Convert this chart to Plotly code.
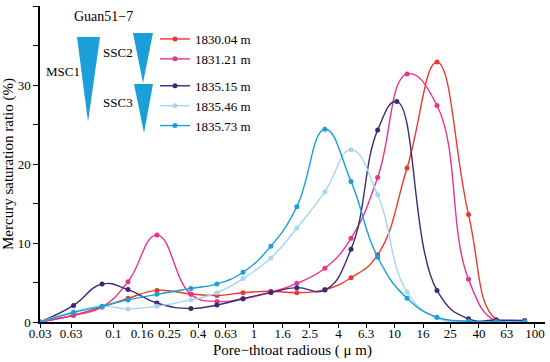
import plotly.graph_objects as go

# Pore-throat radius (µm) of the measurement points
radius = [0.03, 0.052, 0.083, 0.127, 0.204, 0.356, 0.545, 0.836, 1.32,
          2.02, 3.2, 4.91, 7.6, 12.3, 20.1, 33.7, 53, 84.6]
# sample 1835.15 m has its peak point at a different radius
radius_183515 = [0.03, 0.052, 0.083, 0.127, 0.204, 0.356, 0.545, 0.836, 1.32,
                 2.02, 3.2, 4.91, 7.6, 10.4, 20.1, 33.7, 53, 84.6]

s_183004 = [0, 0.85, 1.9, 3.0, 4.0, 3.55, 3.35, 3.7, 3.9,
            3.7, 4.1, 5.6, 8.5, 19.5, 32.9, 13.6, 0.3, 0.05]
s_183121 = [0, 0.85, 1.9, 5.1, 11.0, 3.5, 2.6, 2.95, 3.75,
            4.9, 6.8, 10.6, 18.3, 31.4, 27.4, 5.4, 0.05, 0.05]
s_183515 = [0, 2.1, 4.8, 4.1, 2.4, 1.7, 2.15, 2.95, 3.75,
            4.35, 4.05, 9.2, 24.3, 27.9, 4.0, 0.4, 0.25, 0.2]
s_183546 = [0, 1.3, 2.0, 1.65, 2.0, 2.8, 3.7, 5.5, 8.1,
            11.9, 16.5, 21.8, 16.1, 3.8, 0.5, 0.05, 0, 0]
s_183573 = [0, 1.2, 2.0, 2.8, 3.5, 4.25, 4.8, 6.3, 9.6,
            14.6, 24.4, 17.8, 8.2, 3.0, 0.6, 0.1, 0, 0]

series_names = ["1830.04 m", "1831.21 m", "1835.15 m", "1835.46 m", "1835.73 m"]
series_x = [radius, radius, radius_183515, radius, radius]
series_values = [s_183004, s_183121, s_183515, s_183546, s_183573]
series_colors = ["#e8392c", "#e8348c", "#3b2a78", "#a6d6f0", "#1a9fd8"]
series_groups = ["a", "a", "b", "b", "b"]

x_tickvals = [0.03, 0.05, 0.1, 0.16, 0.25, 0.4, 0.63, 1, 1.6, 2.5, 4, 6.3,
              10, 16, 25, 40, 63, 100]
x_ticktext = ["0.03", "0.63", "0.1", "0.16", "0.25", "0.4", "0.63", "1", "1.6",
              "2.5", "4", "6.3", "10", "16", "25", "40", "63", "100"]
y_tickvals = [0, 5, 10, 15, 20, 25, 30, 35, 40]
y_ticktext = ["0", "", "10", "", "20", "", "30", "", "40"]

FONT = "Liberation Serif, Times New Roman, serif"

fig = go.Figure()
for name, xs, vals, col, grp in zip(series_names, series_x, series_values,
                                    series_colors, series_groups):
    fig.add_trace(go.Scatter(
        x=xs, y=vals, name=name, mode="lines+markers",
        legendgroup=grp,
        line=dict(color=col, width=1.4, shape="spline", smoothing=1.3),
        marker=dict(color=col, size=5),
    ))

W, H = 550, 362
L, R, T, B = 40, 5, 6, 40
pw, ph = W - L - R, H - T - B


def px(x):
    return (x - L) / pw


def py(y):
    return (H - B - y) / ph


tri_color = "#1a9fd8"
triangles = [((77, 37), (100, 37), (88, 122)),
             ((133, 33), (153, 33), (143, 83)),
             ((134, 84), (153, 84), (144, 133))]
shapes = []
for a, b, c in triangles:
    shapes.append(dict(
        type="path", xref="paper", yref="paper",
        path=f"M {px(a[0])} {py(a[1])} L {px(b[0])} {py(b[1])} L {px(c[0])} {py(c[1])} Z",
        fillcolor=tri_color, line=dict(width=0),
    ))

annotations = [
    dict(text="Guan51−7", x=px(103), y=py(17), size=14),
    dict(text="MSC1", x=px(63), y=py(71), size=13),
    dict(text="SSC2", x=px(118), y=py(52), size=13),
    dict(text="SSC3", x=px(118), y=py(103), size=13),
]
fig.update_layout(
    width=W, height=H,
    margin=dict(l=L, r=R, t=T, b=B),
    paper_bgcolor="white", plot_bgcolor="white",
    font=dict(family=FONT, size=13, color="black"),
    shapes=shapes,
    annotations=[dict(text=a["text"], x=a["x"], y=a["y"], xref="paper", yref="paper",
                      showarrow=False, font=dict(size=a["size"], family=FONT),
                      xanchor="center", yanchor="middle") for a in annotations],
    showlegend=True,
    legend=dict(x=px(155), y=py(24), xanchor="left", yanchor="top",
                bgcolor="rgba(0,0,0,0)", font=dict(size=13, family=FONT),
                traceorder="grouped", tracegroupgap=7, itemwidth=30),
)
fig.update_xaxes(
    type="log", range=[-1.5229, 2.072],
    tickvals=x_tickvals, ticktext=x_ticktext,
    ticks="outside", ticklen=4, tickwidth=1.2, tickcolor="black",
    ticklabelstandoff=-5, tickfont=dict(size=13),
    showline=True, linecolor="black", linewidth=1.5,
    showgrid=False, zeroline=False,
    title=dict(text="Pore−thtoat radious ( μ m)", font=dict(size=15), standoff=4),
    automargin=False,
)
fig.update_yaxes(
    range=[0, 40],
    tickvals=y_tickvals, ticktext=y_ticktext,
    ticks="outside", ticklen=5, tickwidth=1.2, tickcolor="black",
    showline=True, linecolor="black", linewidth=1.5,
    showgrid=False, zeroline=False,
    title=dict(text="Mercury saturation ratio (%)", font=dict(size=15), standoff=2),
    automargin=False,
)
fig.write_html("out.html", config={"displayModeBar": False},
               post_script="document.body.style.margin='0px';document.body.style.padding='0px';")
